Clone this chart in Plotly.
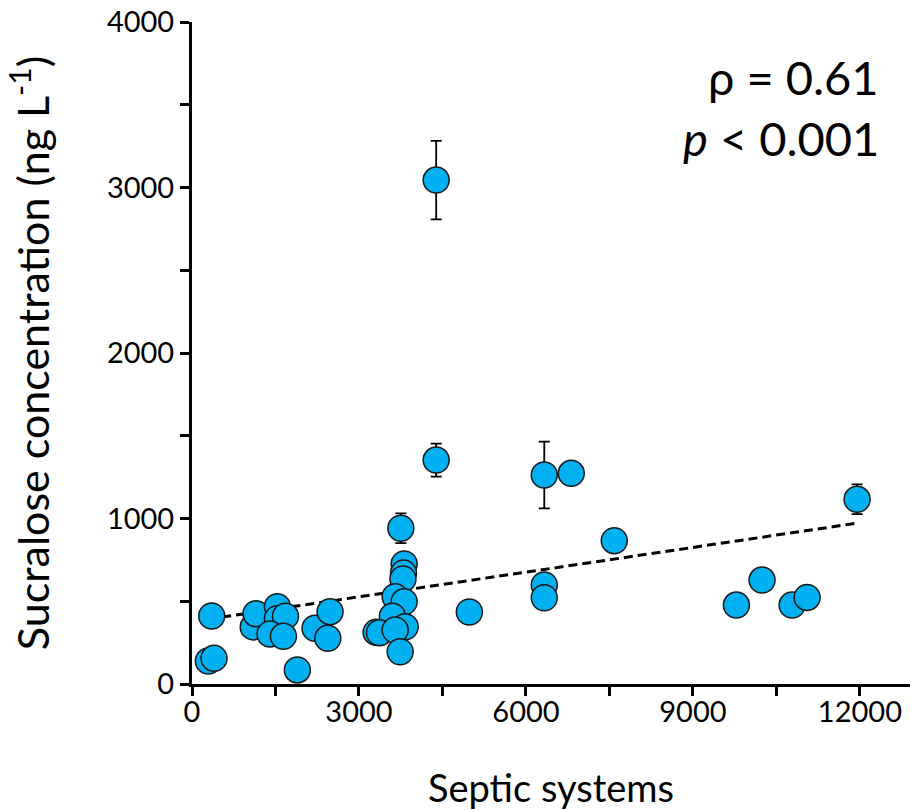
import plotly.graph_objects as go

# Data
septic = [354, 294, 396, 1100, 1150, 1534, 1534, 1680, 1402, 1642, 1893, 2211, 2440, 2481,
          3308, 3752, 3812, 3800, 3790, 3650, 3812, 3600, 3830, 3368, 3650, 3740,
          4387, 4387, 4983, 6329, 6814, 6329, 6329, 7587, 9781, 10242, 10782, 11051, 11950]
sucralose = [411, 139, 155, 345, 425, 467, 395, 410, 302, 288, 85, 337, 276, 437,
             312, 941, 725, 670, 635, 527, 497, 410, 346, 310, 326, 195,
             3045, 1353, 435, 1263, 1273, 598, 521, 866, 477, 628, 477, 523, 1116]
err = [0, 0, 0, 0, 0, 71, 0, 0, 0, 0, 0, 0, 0, 0,
       0, 90, 0, 0, 0, 0, 0, 0, 0, 0, 0, 0,
       237, 100, 0, 202, 0, 0, 0, 0, 0, 0, 0, 0, 90]

trend_x = [294, 11950]
trend_y = [392, 972]

x_ticks = [0, 3000, 6000, 9000, 12000]
y_ticks = [0, 1000, 2000, 3000, 4000]

FONT = "Lato"

fig = go.Figure()
fig.add_trace(go.Scatter(
    x=trend_x, y=trend_y, mode="lines",
    line=dict(color="black", width=3, dash="9px,5px"),
    showlegend=False, hoverinfo="skip"))
fig.add_trace(go.Scatter(
    x=septic, y=sucralose, mode="markers",
    marker=dict(size=26, color="#00B0F0", line=dict(color="#1a1a1a", width=1.5)),
    error_y=dict(type="data", array=err, visible=True, color="black", thickness=1.8, width=5.5),
    showlegend=False))

fig.add_annotation(x=12380, y=3670, xref="x", yref="y", text="ρ = 0.61",
                   showarrow=False, xanchor="right", yanchor="middle",
                   font=dict(family=FONT, size=47, color="black"))
fig.add_annotation(x=12380, y=3300, xref="x", yref="y", text="<i>p</i> &lt; 0.001",
                   showarrow=False, xanchor="right", yanchor="middle",
                   font=dict(family=FONT, size=47, color="black"))

fig.update_layout(
    width=910, height=810,
    margin=dict(l=192, r=0, t=22, b=126),
    plot_bgcolor="white", paper_bgcolor="white",
    font=dict(family=FONT, color="black"),
)
fig.update_xaxes(
    range=[0, 12900], tickvals=x_ticks, ticktext=[str(v) for v in x_ticks],
    showgrid=False, zeroline=False,
    showline=True, linecolor="black", linewidth=3,
    ticks="outside", ticklen=9, tickwidth=3, tickcolor="black",
    minor=dict(dtick=1500, tick0=0, ticks="outside", ticklen=9, tickwidth=3, tickcolor="black", showgrid=False),
    tickfont=dict(family=FONT, size=29), ticklabelstandoff=-9,
    title=dict(text="Septic systems", font=dict(family=FONT, size=38), standoff=50),
)
fig.update_yaxes(
    range=[0, 4000], tickvals=y_ticks, ticktext=[str(v) for v in y_ticks],
    showgrid=False, zeroline=False,
    showline=True, linecolor="black", linewidth=3,
    ticks="outside", ticklen=9, tickwidth=3, tickcolor="black",
    minor=dict(dtick=500, tick0=0, ticks="outside", ticklen=9, tickwidth=3, tickcolor="black", showgrid=False),
    tickfont=dict(family=FONT, size=29),
    title=dict(text="Sucralose concentration (ng L<sup>-1</sup>)", font=dict(family=FONT, size=43), standoff=44),
)

fig.write_html("out.html")
